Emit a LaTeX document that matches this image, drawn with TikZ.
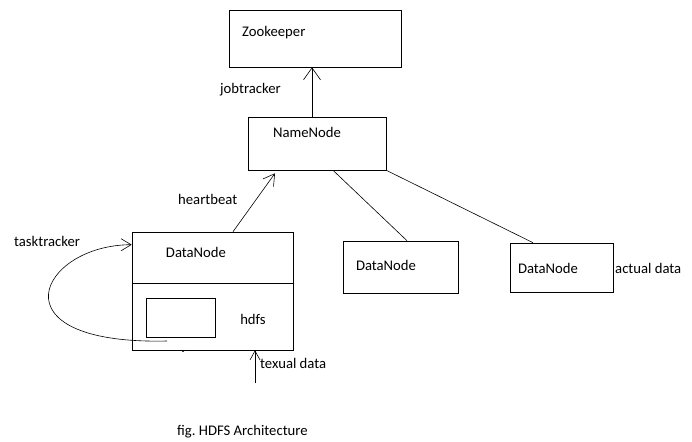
\documentclass[tikz,border=0pt]{standalone}
\usepackage{fontspec}
\setmainfont{Carlito}
\usetikzlibrary{calc,arrows.meta,positioning}
\tikzset{
  ar/.style={-{Straight Barb[length=12pt,width=17pt]},line width=0.6pt},
  box/.style={draw,line width=0.6pt,inner sep=0pt},
  lbl/.style={inner sep=0pt,font=\fontsize{14.7}{17}\selectfont}
}
\frenchspacing

\begin{document}
\begin{tikzpicture}[x=1pt,y=-1pt]
\useasboundingbox (0,0) rectangle (692,441);
% boxes
\node[box,minimum width=172pt,minimum height=57pt] (zk) at (315,38.5) {};
\node[box,minimum width=138pt,minimum height=53pt] (nn) at (317,143.5) {};
\node[box,minimum width=161pt,minimum height=118pt] (dn) at (212.5,291) {};
\node[box,minimum width=69pt,minimum height=39pt] (hd) at (180.5,317.5) {};
\node[box,minimum width=115pt,minimum height=52pt] (dnb) at (400.5,267) {};
\node[box,minimum width=103pt,minimum height=49pt] (dnc) at (561.5,267.5) {};
\draw[line width=0.6pt] (dn.west |- 0,283) -- (dn.east |- 0,283);
% texts
\node[lbl,anchor=west] (zkt) at (242,33) {Zookeeper};
\node[lbl] (nnt) at (307,132) {NameNode};
\node[lbl] (dnt) at (196,252) {DataNode};
\node[lbl] (dnbt) at (386,265) {DataNode};
\node[lbl] (dnct) at (548,268) {DataNode};
\node[lbl,anchor=west] (act) at (615,268) {actual data};
\node[lbl] (hdt) at (253,319) {hdfs};
\node[lbl,anchor=west] (jt) at (220,90) {jobtracker};
\node[lbl,anchor=west] (hb) at (178,199) {heartbeat};
\node[lbl,anchor=west] (tt) at (14,241) {tasktracker};
\node[lbl,anchor=west] (tx) at (260,363) {texual data};
\node[lbl,anchor=west] (fig) at (177,432) {fig. HDFS Architecture};
% connectors
\draw[ar] ([xshift=-5pt]nn.north) -- ([xshift=-3pt]zk.south);
\draw[ar,-{Straight Barb[length=11pt,width=13pt]}] ([xshift=20.5pt]dn.north) -- ([xshift=-42pt,yshift=-3pt]nn.south);
\draw[line width=0.6pt] ([xshift=16pt]nn.south) -- ([xshift=6.5pt]dnb.north);
\draw[line width=0.6pt] (nn.south east) -- ([xshift=-28.5pt]dnc.north);
\coordinate (ts) at (167,341);
\draw[ar,-{Straight Barb[length=10pt,width=12pt]}] (ts) .. controls (-10,345) and (40,245) .. ([yshift=-13pt]dn.north west);
\coordinate (td) at (255,383);
\draw[ar,-{Straight Barb[length=9pt,width=10pt]}] (td) -- (td |- dn.south);
\fill (183,351) circle (1pt);
\end{tikzpicture}
\end{document}
